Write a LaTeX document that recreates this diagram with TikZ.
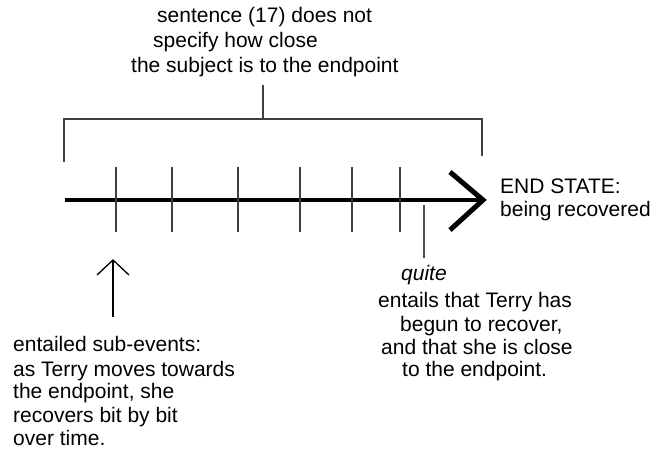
\documentclass[tikz,border=0pt]{standalone}
\usepackage{fontspec}
\setmainfont{Liberation Sans}
\begin{document}
\begin{tikzpicture}[x=1pt,y=-1pt,
  txt/.style={inner sep=0pt,anchor=base west,font=\fontsize{21}{24}\selectfont},
  tick/.style={line width=1.5pt,draw=black!75},
  thin/.style={line width=1.4pt,draw=black!75},
  axis/.style={line width=4.2pt,draw=black}]
\useasboundingbox (0,0) rectangle (657,468);
% top text
\node[txt] (t1) at (157,23) {sentence (17) does not};
\node[txt] (t2) at (153,48) {specify how close};
\node[txt] (t3) at (131,73) {the subject is to the endpoint};
% bracket
\coordinate (bc) at (263,85);
\coordinate (bm) at (263,119);
\coordinate (bl) at (64,119);
\coordinate (br) at (482,119);
\coordinate (bld) at (64,162);
\coordinate (brd) at (482,156);
\draw[thin] (bc) -- (bm);
\draw[thin] (bld) -- (bl) -- (br) -- (brd);
% axis
\coordinate (a0) at (65,200);
\coordinate (a1) at (483,200);
\draw[axis] (a0) -- (a1);
\draw[line width=5pt,line join=miter] (450,172) -- (a1) -- (450,230);
% ticks
\foreach \x/\n in {116/1,172/2,238/3,300/4,352/5,400/6}{
  \draw[tick] (\x,167) coordinate (k\n) -- (\x,232);
}
% end state
\node[txt] (e1) at (500,194) {END STATE:};
\node[txt] (e2) at (500,217) {being recovered};
% quite
\coordinate (q0) at (424,205);
\node[txt,anchor=base] (q) at (424,281) {\itshape quite};
\draw[line width=1.3pt,draw=black!70] (q0) -- (424,258);
\node[txt] (r1) at (378,308) {entails that Terry has};
\node[txt] (r2) at (400,331) {begun to recover,};
\node[txt] (r3) at (381,354) {and that she is close};
\node[txt] (r4) at (402,377) {to the endpoint.};
% up arrow
\coordinate (u0) at (113,317);
\coordinate (u1) at (113,260);
\draw[line width=1.3pt] (u0) -- (u1);
\draw[line width=1.3pt] (97,275) -- (u1) -- (129,275);
% bottom left text
\node[txt] (l1) at (13,352) {entailed sub-events:};
\node[txt] (l2) at (13,376) {as Terry moves towards};
\node[txt] (l3) at (13,399) {the endpoint, she};
\node[txt] (l4) at (13,422) {recovers bit by bit};
\node[txt] (l5) at (13,445) {over time.};
\end{tikzpicture}
\end{document}
